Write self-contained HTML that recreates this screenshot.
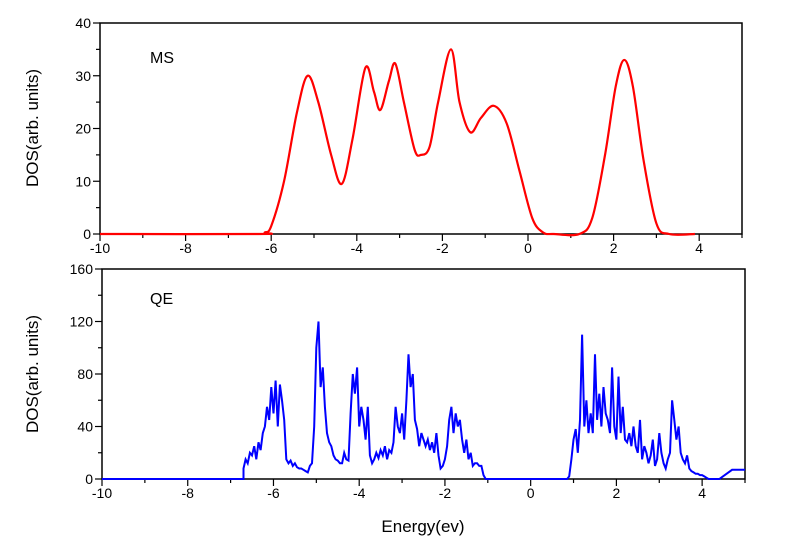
<!DOCTYPE html>
<html><head><meta charset="utf-8"><style>
body{margin:0;background:#fff}
svg{display:block;font-family:"Liberation Sans",Arial,sans-serif}
</style></head><body>
<svg id="c" width="800" height="543" viewBox="0 0 800 543" xmlns="http://www.w3.org/2000/svg"></svg>
<script>
const msX=[-10,-6.3,-6.15,-6.0,-5.7,-5.4,-5.15,-4.9,-4.6,-4.35,-4.1,-3.8,-3.6,-3.45,-3.25,-3.1,-2.9,-2.65,-2.5,-2.3,-2.1,-1.8,-1.6,-1.35,-1.1,-0.8,-0.5,-0.2,0.1,0.35,0.6,1.2,1.5,1.8,2.05,2.25,2.45,2.7,3.0,3.3,3.9];
const msY=[0,0,0.3,1.5,10,23,30,25,15,9.5,18,31.5,27,23.5,29,32.3,25,16,15,16.5,25,35,25,19.3,22,24.3,21,12,3,0.3,0,0,3,15,28,33,28,14,2,0,0];
const qeValStart=-6.7;
const qeValence=[8,15,12,20,18,25,15,28,22,35, 40,55,45,70,50,75,40,72,60,45, 15,12,14,10,12,9,8,8,7,6, 5,10,12,40,100,120,70,85,55,35, 28,25,18,15,14,12,12,20,15,14, 50,80,65,85,40,55,45,30,55,18, 12,15,20,16,22,18,25,15,22,20, 28,55,40,35,50,30,60,95,70,80, 45,38,25,35,30,25,30,22,28,20, 35,18,8,10,15,25,45,55,35,50, 40,45,30,20,30,15,20,10,12,12, 10,10,3,0];
const qeCondStart=0.9;
const qeConduction=[2,15,30,38,20,45,110,40,60,35, 50,35,95,45,65,40,70,50,45,35, 85,40,30,78,35,55,30,28,35,25, 40,25,20,45,15,25,20,12,18,30, 10,15,35,20,12,8,15,20,60,45, 30,40,20,15,12,18,8,6,5,4, 4,3,3,2,1,0];
const qeTailX=[4.4,4.7,5.0];
const qeTailY=[0,7,7];
const step=0.05;
const xTicks=[-10,-8,-6,-4,-2,0,2,4];
const msYTicks=[0,10,20,30,40];
const qeYTicks=[0,40,80,120,160];

const NS="http://www.w3.org/2000/svg", svg=document.getElementById('c');
function el(t,a,txt){const e=document.createElementNS(NS,t);for(const k in a)e.setAttribute(k,a[k]);if(txt!=null)e.textContent=txt;svg.appendChild(e);return e;}

function panel(name,L,R,T,B,xmax,ymax,yTicks,minorY){
  const sx=v=>L+(v+10)/(xmax+10)*(R-L), sy=v=>B-v/ymax*(B-T);
  let f=el('rect',{x:L,y:T,width:R-L,height:B-T,fill:'none',stroke:'#000','stroke-width':1.5});
  
  for(let v=-10;v<=Math.floor(xmax);v++){
    const major=xTicks.includes(v);
    let t=el('line',{x1:sx(v),x2:sx(v),y1:B,y2:B+(major?7:4),stroke:'#000','stroke-width':1.2});
    
  }
  xTicks.forEach(v=>{let t=el('text',{x:sx(v),y:B+19,'text-anchor':'middle','font-size':14},v);
    });
  for(let v=0;v<=ymax;v+=minorY){
    const major=yTicks.includes(v);
    let t=el('line',{x1:L,x2:L-(major?7:4),y1:sy(v),y2:sy(v),stroke:'#000','stroke-width':1.2});
    
  }
  yTicks.forEach(v=>{let t=el('text',{x:L-9,y:sy(v)+5,'text-anchor':'end','font-size':14},v);
    });
  return {sx,sy};
}
const pTop=panel('ms',100,742,23,234,5,40,msYTicks,5);
const pBot=panel('qe',102,745,269,479,5,160,qeYTicks,20);

let pts=msX.map((x,i)=>[pTop.sx(x),pTop.sy(msY[i])]);
let d='M'+pts[0][0]+','+pts[0][1];
for(let i=0;i<pts.length-1;i++){
  const p0=pts[Math.max(0,i-1)],p1=pts[i],p2=pts[i+1],p3=pts[Math.min(pts.length-1,i+2)];
  d+=` C${p1[0]+(p2[0]-p0[0])/6},${p1[1]+(p2[1]-p0[1])/6} ${p2[0]-(p3[0]-p1[0])/6},${p2[1]-(p3[1]-p1[1])/6} ${p2[0]},${p2[1]}`;
}
let ms=el('path',{d,fill:'none',stroke:'#ff0000','stroke-width':2.2});


let q=[[-10,0],[qeValStart,0]];
qeValence.forEach((v,i)=>q.push([qeValStart+i*step,v]));
q.push([qeCondStart-step,0]);
qeConduction.forEach((v,i)=>q.push([qeCondStart+i*step,v]));
qeTailX.forEach((x,i)=>q.push([x,qeTailY[i]]));
let qd=q.map((p,i)=>(i?'L':'M')+pBot.sx(p[0]).toFixed(1)+','+pBot.sy(p[1]).toFixed(1)).join(' ');
let qe=el('path',{d:qd,fill:'none',stroke:'#0000ff','stroke-width':2});


let t;
t=el('text',{x:150,y:63,'font-size':16},'MS');
t=el('text',{x:150,y:304,'font-size':16},'QE');
t=el('text',{x:0,y:0,'font-size':17,'text-anchor':'middle',transform:'translate(38,128) rotate(-90)'},'DOS(arb. units)');
t=el('text',{x:0,y:0,'font-size':17,'text-anchor':'middle',transform:'translate(38,374) rotate(-90)'},'DOS(arb. units)');
t=el('text',{x:423,y:532,'font-size':17,'text-anchor':'middle'},'Energy(ev)');
</script>
</body></html>
